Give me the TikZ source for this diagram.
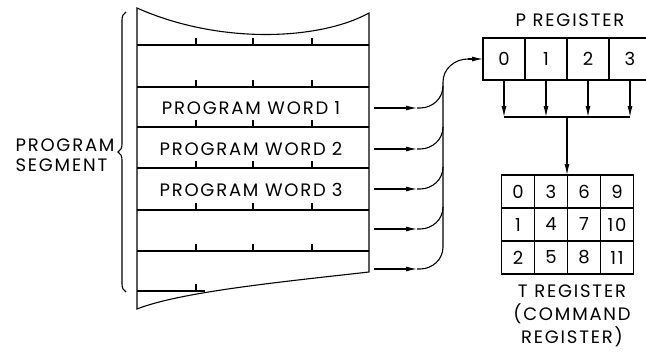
\documentclass[tikz,border=0pt]{standalone}
\usepackage{fontspec}
\setmainfont{Poppins}[LetterSpace=10]
\usetikzlibrary{arrows.meta,positioning,decorations.pathreplacing,calc}

\tikzset{
  cell/.style={draw,line width=1.1pt,inner sep=0pt,outer sep=0pt},
  lbl/.style={font=\fontsize{18}{23}\selectfont,inner sep=0pt},
  tip/.style={-{Latex[length=11pt,width=5pt]}},
}

\begin{document}
\begin{tikzpicture}[x=1pt,y=-1pt,line width=1.1pt]
  \useasboundingbox (0,0) rectangle (646,356);
  % program segment, torn off at top and bottom
  \draw (137,8) .. controls (220,45) and (320,40) .. (369,13) -- (369,272)
        .. controls (280,282) and (180,292) .. (137,309) -- cycle;
  % word boundaries with byte ticks
  \foreach \y in {45,87,127,168,210,251} {
    \draw (137,\y) -- (369,\y);
    \foreach \x in {196,253,312} \draw (\x,\y) -- ++(0,-7);
  }
  \draw (137,291) -- (205,291);
  \draw (196,291) -- ++(0,-7);
  \node[lbl] (word1) at (251,108) {PROGRAM WORD\hspace{6pt}1};
  \node[lbl] (word2) at (251,149) {PROGRAM WORD\hspace{6pt}2};
  \node[lbl] (word3) at (251,190) {PROGRAM WORD\hspace{6pt}3};
  % brace and its label
  \draw[decorate,decoration={brace,amplitude=8pt}] (126,292) -- (126,12);
  \node[font=\fontsize{18}{20}\selectfont,inner sep=0pt,align=left,anchor=east] (seg) at (115,155) {PROGRAM\\SEGMENT};
  % P register
  \node[lbl] (ptitle) at (570,20) {P REGISTER};
  \foreach \i in {0,...,3}
    \node[cell,lbl,minimum width=42pt,minimum height=42pt] (p\i) at ({504+42*\i},59) {\i};
  % words onto the bus
  \foreach \y [count=\k] in {108,149,189,229,269} {
    \coordinate (w\k) at (374,\y);
    \coordinate (h\k) at (417,\y);
    \draw[tip] (w\k) -- (h\k);
    \draw (h\k) -- ++(3,0) to[out=0,in=-90] ++(23,-22);
  }
  \coordinate (busbot) at (443,247);
  \coordinate (bustop) at (443,82);
  \draw (busbot) -- (bustop) to[out=90,in=180] ++(25,-23) coordinate (bend);
  \draw[tip] (bend) -- (p0.west);
  % T register
  \foreach \r in {0,1,2} \foreach \c in {0,...,3} {
    \pgfmathtruncatemacro\n{3*\c+\r}
    \node[cell,lbl,minimum size=33pt] (t\r\c) at ({518+33*\c},{191.5+33*\r}) {\n};
  }
  % P to T
  \coordinate (bar) at (567,117);
  \foreach \i in {0,...,3} \draw[tip] (p\i.south) -- (p\i.south |- bar);
  \draw (p0.south |- bar) -- (p3.south |- bar);
  \draw[tip] (bar) -- (bar |- t00.north);
  \node[lbl,align=center] (tcap) at (572,316) {T REGISTER\\(COMMAND\\REGISTER)};
\end{tikzpicture}
\end{document}
